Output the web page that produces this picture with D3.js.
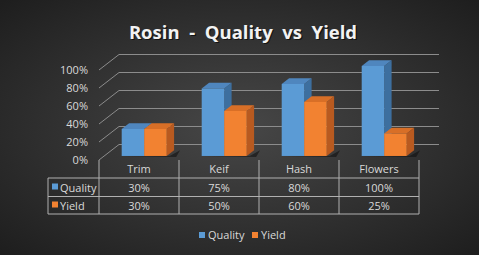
<!DOCTYPE html>
<html><head><meta charset="utf-8">
<script src="https://cdn.jsdelivr.net/npm/d3@7"></script>
<style>html,body{margin:0;padding:0;background:#2a2a2a;overflow:hidden}</style>
</head><body>
<script>
const categories = ["Trim", "Keif", "Hash", "Flowers"];
const quality = [0.30, 0.75, 0.80, 1.00];
const yieldVals = [0.30, 0.50, 0.60, 0.25];
const seriesNames = ["Quality", "Yield"];
const yTicks = [0, 0.2, 0.4, 0.6, 0.8, 1.0];
const qualityLabels = ["30%", "75%", "80%", "100%"];
const yieldLabels = ["30%", "50%", "60%", "25%"];

const W = 479, H = 255;
const svg = d3.select("body").append("svg").attr("width", W).attr("height", H);
const defs = svg.append("defs");
const rg = defs.append("radialGradient").attr("id","bg").attr("cx","50%").attr("cy","50%").attr("r","70%");
rg.append("stop").attr("offset","0%").attr("stop-color","#474747");
rg.append("stop").attr("offset","100%").attr("stop-color","#1e1e1e");
svg.append("rect").attr("width",W).attr("height",H).attr("fill","url(#bg)");

const font = "'Open Sans', 'DejaVu Sans', sans-serif";
const txt = "#d9d9d9";

// title
const title = "Rosin  -  Quality  vs  Yield";
svg.append("text").attr("x",243).attr("y",39).attr("text-anchor","middle")
  .attr("font-family",font).attr("font-weight","bold").attr("font-size",18.5)
  .attr("fill","#000").attr("opacity",0.6).attr("transform","translate(1.2,1.2)")
  .attr("xml:space","preserve").text(title);
svg.append("text").attr("x",243).attr("y",39).attr("text-anchor","middle")
  .attr("font-family",font).attr("font-weight","bold").attr("font-size",18.5)
  .attr("fill","#f2f2f2").attr("xml:space","preserve").text(title);

// 3D geometry
const x0 = 99, x1 = 419;
const DX = 20, DY = -15.5;
const x = d3.scaleBand().domain(categories).range([x0, x1]);
const y = d3.scaleLinear().domain([0, 1]).range([160, 70]);

// gridlines: diagonal on left + back wall line
const grid = svg.append("g").attr("stroke","#8c8c8c").attr("stroke-width",1).attr("fill","none");
yTicks.forEach(t => {
  const yy = y(t);
  grid.append("line").attr("x1",x0).attr("y1",yy).attr("x2",x0+DX).attr("y2",yy+DY);
  grid.append("line").attr("x1",x0+DX).attr("y1",yy+DY).attr("x2",x1+DX).attr("y2",yy+DY);
});

// tick labels
svg.append("g").selectAll("text").data(yTicks).join("text")
  .attr("x",88).attr("y",d=>y(d)+4).attr("text-anchor","end")
  .attr("font-family",font).attr("font-size",11).attr("fill",txt)
  .text(d=>d3.format(".0%")(d));

// bars
const d1 = 0.26, d2 = 0.63;
const barW = 22.5;
const colors = [
  {front:"#5b9bd5", top:"#4f86be", side:"#3d6f9f"},
  {front:"#f28231", top:"#d86f27", side:"#b85a20"}
];
const barsG = svg.append("g");
categories.forEach((c, i) => {
  const cx = x(c) + x.bandwidth()/2;
  const left = cx - barW;
  // shadow
  const sx = left + d1*DX, sy = y(0) + d1*DY;
  barsG.append("path")
    .attr("d", `M${sx+3},${sy} L${sx+2*barW+3},${sy} L${sx+2*barW+(d2-d1)*DX+6},${sy+(d2-d1)*DY} L${sx+2*barW+(d2-d1)*DX+2},${sy+1} Z`)
    .attr("fill","#111").attr("opacity",0.6);
  [quality[i], yieldVals[i]].forEach((v, s) => {
    const bx = left + s*barW + d1*DX;
    const by0 = y(0) + d1*DY;
    const by1 = y(v) + d1*DY;
    const ddx = (d2-d1)*DX, ddy = (d2-d1)*DY;
    const col = colors[s];
    barsG.append("path").attr("d",
      `M${bx+barW},${by1} L${bx+barW+ddx},${by1+ddy} L${bx+barW+ddx},${by0+ddy} L${bx+barW},${by0} Z`)
      .attr("fill",col.side);
    barsG.append("path").attr("d",
      `M${bx},${by1} L${bx+ddx},${by1+ddy} L${bx+barW+ddx},${by1+ddy} L${bx+barW},${by1} Z`)
      .attr("fill",col.top);
    barsG.append("rect").attr("x",bx).attr("y",by1).attr("width",barW).attr("height",by0-by1)
      .attr("fill",col.front);
  });
});

// data table
const tg = svg.append("g");
const tLeft = 48, rowY = [160, 178, 196.5, 214];
const lineCol = "#b0b0b0";
const tl = tg.append("g").attr("stroke",lineCol).attr("stroke-width",1);
tl.append("line").attr("x1",tLeft).attr("x2",x1).attr("y1",rowY[1]).attr("y2",rowY[1]);
tl.append("line").attr("x1",tLeft).attr("x2",x1).attr("y1",rowY[2]).attr("y2",rowY[2]);
tl.append("line").attr("x1",tLeft).attr("x2",x1).attr("y1",rowY[3]).attr("y2",rowY[3]);
tl.append("line").attr("x1",tLeft).attr("x2",tLeft).attr("y1",rowY[1]).attr("y2",rowY[3]);
[x0, ...categories.map(c => x(c) + x.bandwidth())].forEach(xx => {
  tl.append("line").attr("x1",xx).attr("x2",xx).attr("y1",rowY[0]).attr("y2",rowY[3]);
});
const cellText = (xx, yy, t, anchor) => tg.append("text").attr("x",xx).attr("y",yy)
  .attr("text-anchor",anchor||"middle").attr("font-family",font).attr("font-size",11)
  .attr("fill",txt).text(t);
categories.forEach((c,i) => {
  const cx = x(c) + x.bandwidth()/2;
  cellText(cx, 173, c);
  cellText(cx, 191.5, qualityLabels[i]);
  cellText(cx, 209.5, yieldLabels[i]);
});
[["Quality",191.5],["Yield",209.5]].forEach(([n,yy],s) => {
  tg.append("rect").attr("x",52).attr("y",yy-8).attr("width",6).attr("height",6).attr("fill",colors[s].front);
  cellText(60, yy, n, "start");
});

// legend
const lg = svg.append("g");
[["Quality",199],["Yield",252]].forEach(([n,lx],s) => {
  lg.append("rect").attr("x",lx).attr("y",232).attr("width",6).attr("height",6).attr("fill",colors[s].front);
  lg.append("text").attr("x",lx+9).attr("y",239).attr("font-family",font).attr("font-size",11)
    .attr("fill",txt).text(n);
});
</script>
</body></html>
